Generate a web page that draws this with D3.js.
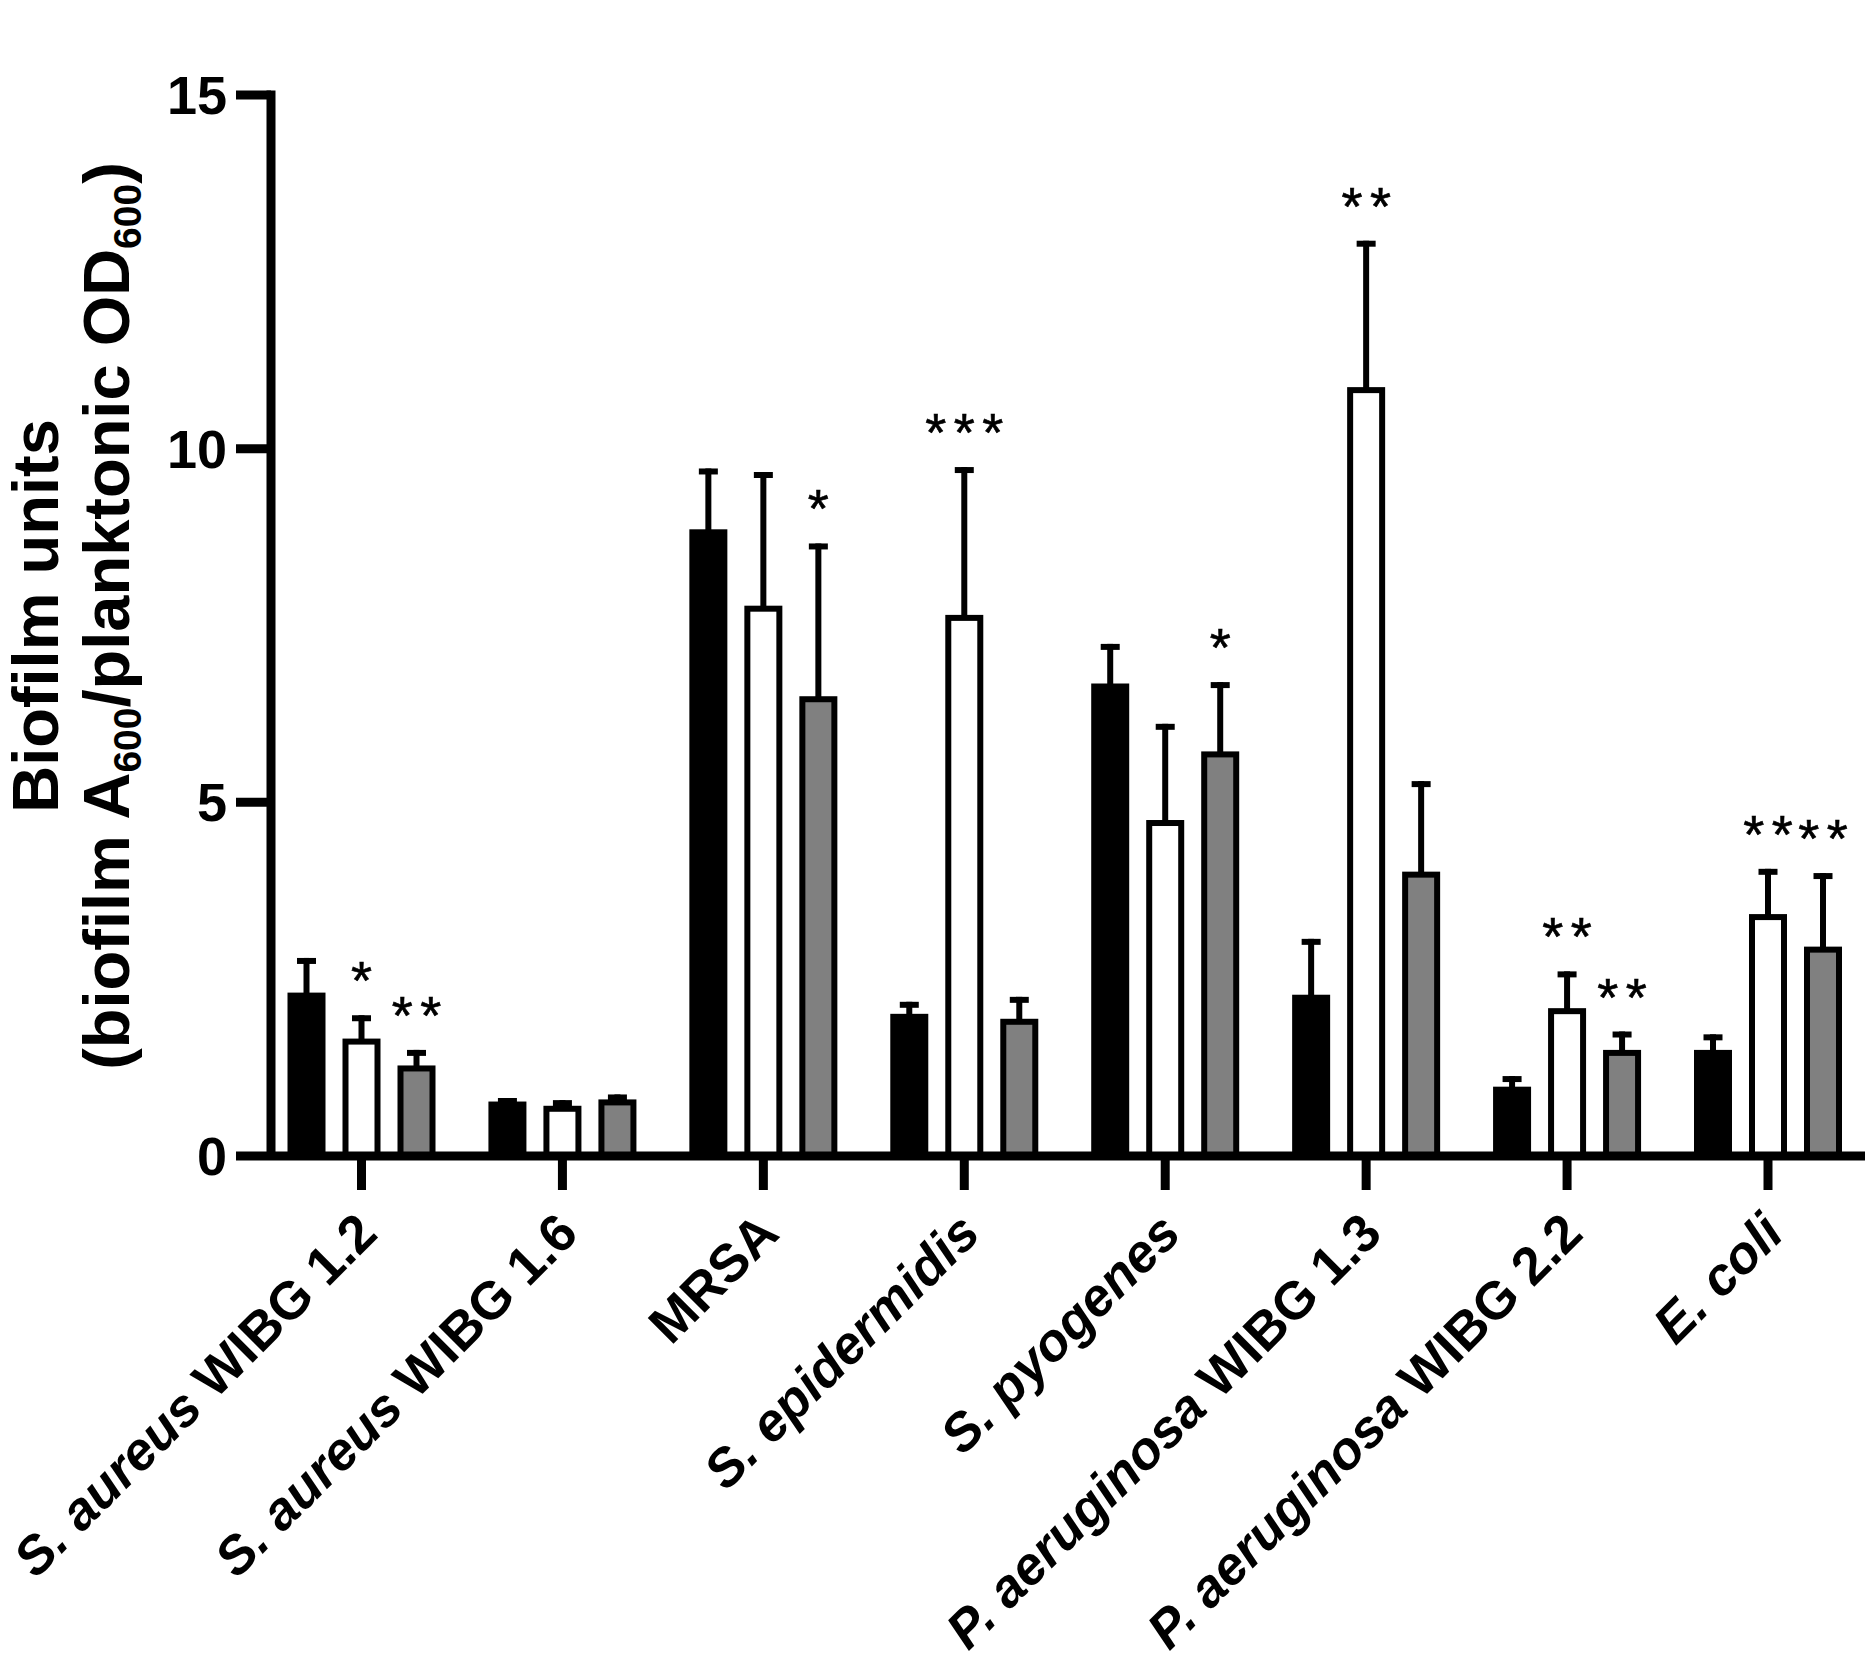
<!DOCTYPE html>
<html>
<head>
<meta charset="utf-8">
<script src="https://cdn.jsdelivr.net/npm/d3@7/dist/d3.min.js"></script>
<style>
  html, body { margin: 0; padding: 0; background: #fff; }
  svg { display: block; }
  text { font-family: "Liberation Sans", Arial, Helvetica, sans-serif; font-weight: bold; }
  text.star { font-weight: normal; }
</style>
</head>
<body>
<svg id="chart" width="1870" height="1677"></svg>
<script>
// ---------------- data ----------------
const categories = [
  "S. aureus WIBG 1.2", "S. aureus WIBG 1.6", "MRSA", "S. epidermidis",
  "S. pyogenes", "P. aeruginosa WIBG 1.3", "P. aeruginosa WIBG 2.2", "E. coli"
];
// label pieces: [text, italic?]
const labelParts = [
  [["S. aureus", true], [" WIBG 1.2", false]],
  [["S. aureus", true], [" WIBG 1.6", false]],
  [["MRSA", false]],
  [["S. epidermidis", true]],
  [["S. pyogenes", true]],
  [["P. aeruginosa", true], [" WIBG 1.3", false]],
  [["P. aeruginosa", true], [" WIBG 2.2", false]],
  [["E. coli", true]]
];
const seriesKeys = ["black", "white", "gray"];
const meanBlack = [2.31, 0.77, 8.86, 2.01, 6.68, 2.28, 0.98, 1.50];
const sdBlack   = [0.49, 0.05, 0.86, 0.17, 0.56, 0.79, 0.15, 0.22];
const meanWhite = [1.66, 0.71, 7.78, 7.65, 4.75, 10.87, 2.09, 3.42];
const sdWhite   = [0.33, 0.08, 1.89, 2.09, 1.36, 2.07, 0.52, 0.64];
const meanGray  = [1.28, 0.80, 6.50, 1.94, 5.72, 4.02, 1.50, 2.96];
const sdGray    = [0.22, 0.07, 2.16, 0.31, 0.98, 1.28, 0.26, 1.04];
const sigWhite  = ["*", "", "", "***", "", "**", "**", "**"];
const sigGray   = ["**", "", "*", "", "*", "", "**", "**"];
const yTicks = [0, 5, 10, 15];

// ---------------- layout ----------------
const svg = d3.select("#chart");
const axisX = 271, baseY = 1156, topY = 95;
const lw = 9;

const x = d3.scalePoint().domain(categories).range([361.5, 1768]);
const sub = d3.scalePoint().domain(seriesKeys).range([-55, 55]);
const y = d3.scaleLinear().domain([0, 15]).range([baseY, topY]);

const fills = { black: "#000000", white: "#ffffff", gray: "#808080" };
const means = { black: meanBlack, white: meanWhite, gray: meanGray };
const sds = { black: sdBlack, white: sdWhite, gray: sdGray };
const sigs = { black: [], white: sigWhite, gray: sigGray };

const barW = 38, sw = 6, capW = 19;

const rows = [];
seriesKeys.forEach(k => categories.forEach((c, i) => {
  rows.push({ k, c, i, m: means[k][i], sd: sds[k][i], sig: sigs[k][i] || "" });
}));

const g = svg.append("g");

// error bars
g.selectAll("line.err").data(rows).enter().append("line")
  .attr("x1", d => x(d.c) + sub(d.k)).attr("x2", d => x(d.c) + sub(d.k))
  .attr("y1", d => y(d.m) + 3).attr("y2", d => y(d.m + d.sd))
  .attr("stroke", "#000").attr("stroke-width", sw);
g.selectAll("line.cap").data(rows).enter().append("line")
  .attr("x1", d => x(d.c) + sub(d.k) - capW / 2).attr("x2", d => x(d.c) + sub(d.k) + capW / 2)
  .attr("y1", d => y(d.m + d.sd) + sw / 2).attr("y2", d => y(d.m + d.sd) + sw / 2)
  .attr("stroke", "#000").attr("stroke-width", sw);

// bars
g.selectAll("rect.bar").data(rows).enter().append("rect")
  .attr("x", d => x(d.c) + sub(d.k) - barW / 2 + sw / 2)
  .attr("width", barW - sw)
  .attr("y", d => y(d.m) + sw / 2)
  .attr("height", d => baseY - y(d.m) - sw / 2)
  .attr("fill", d => fills[d.k])
  .attr("stroke", "#000").attr("stroke-width", sw);

// significance asterisks
const starFs = 54, starGap = 28.5;
rows.filter(d => d.sig).forEach(d => {
  const n = d.sig.length;
  const cx = x(d.c) + sub(d.k);
  const cy = y(d.m + d.sd) - 40;
  for (let j = 0; j < n; j++) {
    g.append("text").attr("class", "star")
      .attr("x", cx + (j - (n - 1) / 2) * starGap)
      .attr("y", cy + 24)
      .attr("text-anchor", "middle")
      .attr("font-size", starFs)
      .attr("stroke", "#000").attr("stroke-width", 0.6)
      .text("*");
  }
});

// ---------------- axes ----------------
g.append("line").attr("x1", axisX).attr("x2", axisX)
  .attr("y1", y(15) - lw / 2).attr("y2", baseY)
  .attr("stroke", "#000").attr("stroke-width", lw);
g.selectAll("line.ytick").data(yTicks.filter(t => t > 0)).enter().append("line")
  .attr("x1", 236).attr("x2", axisX)
  .attr("y1", d => y(d)).attr("y2", d => y(d))
  .attr("stroke", "#000").attr("stroke-width", lw);
g.selectAll("text.ylab").data(yTicks).enter().append("text")
  .attr("x", 227).attr("y", d => y(d) + 19)
  .attr("text-anchor", "end").attr("font-size", 54)
  .text(d => d);
g.append("line").attr("x1", 236).attr("x2", 1865)
  .attr("y1", baseY).attr("y2", baseY)
  .attr("stroke", "#000").attr("stroke-width", lw);
g.selectAll("line.xtick").data(categories).enter().append("line")
  .attr("x1", d => x(d)).attr("x2", d => x(d))
  .attr("y1", baseY).attr("y2", 1190)
  .attr("stroke", "#000").attr("stroke-width", lw);
categories.forEach((c, i) => {
  const t = g.append("text")
    .attr("text-anchor", "end")
    .attr("font-size", 53)
    .attr("transform", `translate(${x(c) + 18},${1236}) rotate(-45)`);
  labelParts[i].forEach(p => {
    t.append("tspan").attr("font-style", p[1] ? "italic" : "normal").text(p[0]);
  });
});

// y title
const tfs = 65, subFs = 39;
g.append("text")
  .attr("text-anchor", "middle").attr("font-size", tfs)
  .attr("transform", "translate(58,616) rotate(-90)")
  .text("Biofilm units");
const t2 = g.append("text")
  .attr("text-anchor", "middle").attr("font-size", tfs)
  .attr("transform", "translate(129,616) rotate(-90)");
t2.append("tspan").text("(biofilm A");
t2.append("tspan").attr("font-size", subFs).attr("dy", 12).text("600");
t2.append("tspan").attr("dy", -12).text("/planktonic OD");
t2.append("tspan").attr("font-size", subFs).attr("dy", 12).text("600");
t2.append("tspan").attr("dy", -12).text(")");
</script>
</body>
</html>
